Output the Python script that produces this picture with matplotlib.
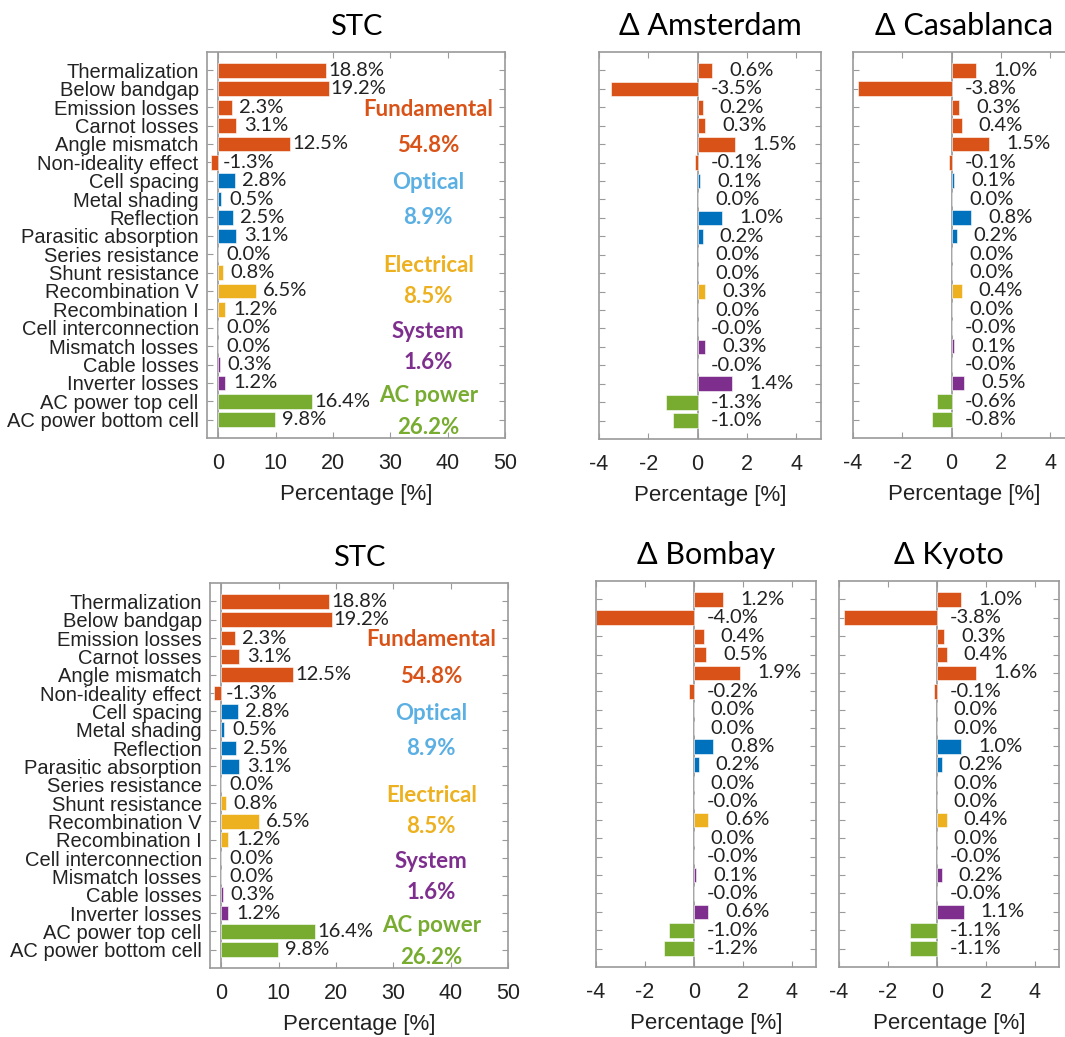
import matplotlib
matplotlib.use("Agg")
import matplotlib.pyplot as plt

plt.rcParams["axes.unicode_minus"] = False

# loss channels, top to bottom
labels = [
    "Thermalization", "Below bandgap", "Emission losses", "Carnot losses",
    "Angle mismatch", "Non-ideality effect", "Cell spacing", "Metal shading",
    "Reflection", "Parasitic absorption", "Series resistance", "Shunt resistance",
    "Recombination V", "Recombination I", "Cell interconnection",
    "Mismatch losses", "Cable losses", "Inverter losses",
    "AC power top cell", "AC power bottom cell",
]

# values in %, -0.0 kept so the label prints "-0.0%"
stc = [18.8, 19.2, 2.3, 3.1, 12.5, -1.3, 2.8, 0.5, 2.5, 3.1,
       0.0, 0.8, 6.5, 1.2, 0.0, 0.0, 0.3, 1.2, 16.4, 9.8]
amsterdam = [0.6, -3.5, 0.2, 0.3, 1.5, -0.1, 0.1, 0.0, 1.0, 0.2,
             0.0, 0.0, 0.3, 0.0, -0.0, 0.3, -0.0, 1.4, -1.3, -1.0]
casablanca = [1.0, -3.8, 0.3, 0.4, 1.5, -0.1, 0.1, 0.0, 0.8, 0.2,
              0.0, 0.0, 0.4, 0.0, -0.0, 0.1, -0.0, 0.5, -0.6, -0.8]
bombay = [1.2, -4.0, 0.4, 0.5, 1.9, -0.2, 0.0, 0.0, 0.8, 0.2,
          0.0, -0.0, 0.6, 0.0, -0.0, 0.1, -0.0, 0.6, -1.0, -1.2]
kyoto = [1.0, -3.8, 0.3, 0.4, 1.6, -0.1, 0.0, 0.0, 1.0, 0.2,
         0.0, 0.0, 0.4, 0.0, -0.0, 0.2, -0.0, 1.1, -1.1, -1.1]

# loss groups: name, total, number of rows
group_names = ["Fundamental", "Optical", "Electrical", "System", "AC power"]
group_totals = ["54.8%", "8.9%", "8.5%", "1.6%", "26.2%"]
group_sizes = [6, 4, 4, 4, 2]

bar_colors = ["#D95319", "#0072BD", "#EDB120", "#7E2F8E", "#77AC30"]
text_colors = ["#D95319", "#5AAFE3", "#EDB120", "#7E2F8E", "#77AC30"]
# rows (y) where group name / total sit in the STC panel
group_name_rows = [3.1, 7.1, 11.6, 15.2, 18.7]
group_total_rows = [5.1, 9.0, 13.3, 16.9, 20.4]

SPINE = "#9A9A9A"
LABEL_FONT = ["Liberation Sans", "DejaVu Sans"]
SOFT_FONT = ["Lato", "DejaVu Sans"]

row_colors = []
for c, n in zip(bar_colors, group_sizes):
    row_colors += [c] * n
ypos = list(range(1, len(labels) + 1))


def style_axes(ax, xlim, xticks):
    ax.set_xlim(*xlim)
    ax.set_ylim(21, 0)
    ax.set_xticks(xticks)
    ax.set_yticks(ypos)
    ax.tick_params(direction="in", top=True, right=True, length=4,
                   color=SPINE, labelsize=15.5)
    ax.tick_params(axis="x", pad=11)
    ax.tick_params(axis="y", pad=6)
    for lab in ax.get_xticklabels():
        lab.set_family(LABEL_FONT)
        lab.set_color("#222222")
    for s in ax.spines.values():
        s.set_color(SPINE)
        s.set_linewidth(1.2)
    ax.axvline(0, color="#8C8C8C", lw=1.1, zorder=1)
    ax.set_xlabel("Percentage [%]", fontsize=16, family=LABEL_FONT,
                  color="#222222", labelpad=7)


def draw_stc(ax, title):
    ax.barh(ypos, stc, height=0.8, color=row_colors, edgecolor="white",
            linewidth=0.4, zorder=2)
    style_axes(ax, (-2, 50), range(0, 51, 10))
    ax.set_yticklabels(labels, family=LABEL_FONT, fontsize=14.5,
                       color="#222222")
    for y, v in zip(ypos, stc):
        ax.text(max(v, 0) + 5.2, y, f"{v:.1f}%", ha="center", va="center",
                fontsize=14.5, family=SOFT_FONT, color="#222222")
    for i in range(len(group_names)):
        ax.text(36.6, group_name_rows[i], group_names[i], ha="center",
                va="center", fontsize=16, fontweight="bold", family=SOFT_FONT,
                color=text_colors[i])
        ax.text(36.6, group_total_rows[i], group_totals[i], ha="center",
                va="center", fontsize=16, fontweight="bold", family=SOFT_FONT,
                color=text_colors[i])
    ax.set_title(title, fontsize=21, family=SOFT_FONT, pad=12)


def draw_delta(ax, vals, title):
    ax.barh(ypos, vals, height=0.8, color=row_colors, edgecolor="white",
            linewidth=0.4, zorder=2)
    style_axes(ax, (-4, 5), range(-4, 5, 2))
    ax.set_yticklabels([])
    for y, v in zip(ypos, vals):
        ax.text(max(v, 0) + 1.6, y, f"{v:.1f}%", ha="center", va="center",
                fontsize=14.5, family=SOFT_FONT, color="#222222")
    ax.set_title("\u0394 " + title, fontsize=22, family=SOFT_FONT, pad=12)


fig = plt.figure(figsize=(10.65, 10.37), dpi=100)

ax1 = fig.add_axes([0.1944, 0.5776, 0.2798, 0.3722])
ax2 = fig.add_axes([0.5624, 0.5766, 0.2085, 0.3732])
ax3 = fig.add_axes([0.8009, 0.5776, 0.2085, 0.3722])
ax4 = fig.add_axes([0.1972, 0.0665, 0.2798, 0.3713])
ax5 = fig.add_axes([0.5596, 0.0675, 0.2066, 0.3722])
ax6 = fig.add_axes([0.7878, 0.0675, 0.2066, 0.3722])

draw_stc(ax1, "STC")
draw_delta(ax2, amsterdam, "Amsterdam")
draw_delta(ax3, casablanca, "Casablanca")
draw_stc(ax4, "STC")
draw_delta(ax5, bombay, "Bombay")
draw_delta(ax6, kyoto, "Kyoto")

fig.savefig("out.png", dpi=100)
